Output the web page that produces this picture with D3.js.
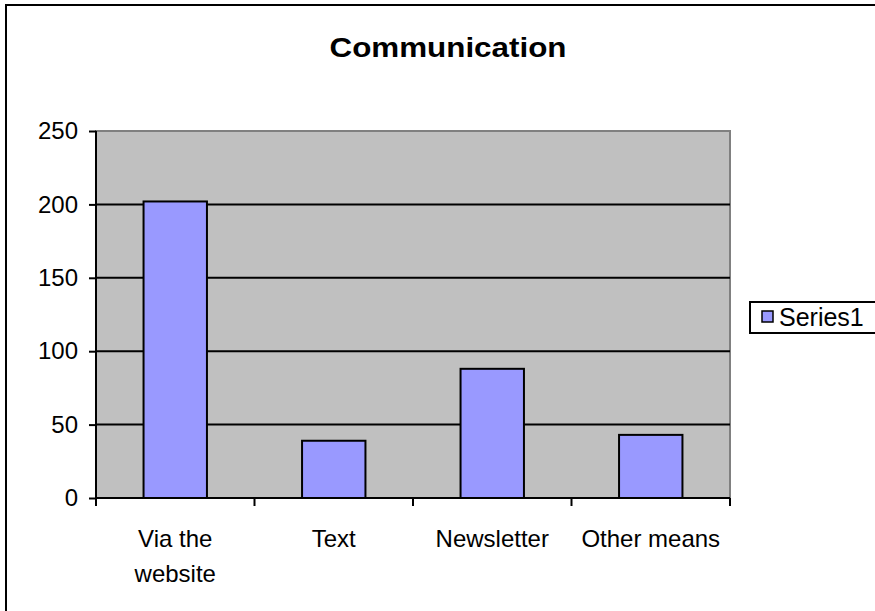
<!DOCTYPE html>
<html><head><meta charset="utf-8">
<script src="https://cdn.jsdelivr.net/npm/d3@7"></script>
<style>body{margin:0;background:#fff;}svg{display:block;font-family:"Liberation Sans",Arial,sans-serif;}</style>
</head><body>
<svg id="c" width="875" height="611"></svg>
<script>
const categories = ["Via the\nwebsite", "Text", "Newsletter", "Other means"];
const values = [202, 39, 88, 43];
const yTicks = [0, 50, 100, 150, 200, 250];
const seriesName = "Series1";
const title = "Communication";

const svg = d3.select("#c");
const pL = 96, pR = 730, pT = 131, pB = 498;
const x = d3.scaleBand().domain(categories).range([pL, pR]).paddingInner(0.6).paddingOuter(0.3);
const xb = d3.scaleBand().domain(categories).range([pL, pR]);
const y = d3.scaleLinear().domain([0, 250]).range([pB, pT]);
const FS = 24;

// outer border
svg.append("rect").attr("x", 6).attr("y", 5).attr("width", 900).attr("height", 700)
  .attr("fill", "#fff").attr("stroke", "#000").attr("stroke-width", 2);

// plot area
svg.append("rect").attr("x", pL).attr("y", pT).attr("width", pR - pL).attr("height", pB - pT)
  .attr("fill", "#C0C0C0").attr("stroke", "#808080").attr("stroke-width", 2);

// gridlines
svg.append("g").selectAll("line").data(yTicks.filter(d => d > 0 && d < 250)).join("line")
  .attr("x1", pL).attr("x2", pR).attr("y1", d => y(d)).attr("y2", d => y(d))
  .attr("stroke", "#000").attr("stroke-width", 2);

// bars
svg.append("g").selectAll("rect").data(values).join("rect")
  .attr("x", (d, i) => x(categories[i])).attr("width", x.bandwidth())
  .attr("y", d => y(d)).attr("height", d => y(0) - y(d))
  .attr("fill", "#9999FF").attr("stroke", "#000").attr("stroke-width", 2);

// y axis
const ya = svg.append("g").attr("transform", `translate(${pL},0)`)
  .call(d3.axisLeft(y).tickValues(yTicks).tickSize(7).tickPadding(11));
ya.select(".domain").attr("stroke", "#000").attr("stroke-width", 2).attr("d", `M0,${pT}V${pB}`);
ya.selectAll(".tick line").attr("stroke-width", 2);
ya.selectAll("text").attr("font-size", FS).attr("fill", "#000").attr("font-family", "Liberation Sans, Arial, sans-serif");

// x axis
const xa = svg.append("g").attr("transform", `translate(0,${pB})`);
xa.append("line").attr("x1", pL).attr("x2", pR).attr("stroke", "#000").attr("stroke-width", 2);
xa.selectAll("line.t").data(d3.range(categories.length + 1)).join("line").attr("class", "t")
  .attr("x1", i => pL + i * xb.step()).attr("x2", i => pL + i * xb.step())
  .attr("y1", 0).attr("y2", 8).attr("stroke", "#000").attr("stroke-width", 2);
xa.selectAll("text").data(categories).join("text")
  .attr("text-anchor", "middle").attr("font-size", FS).attr("fill", "#000")
  .attr("transform", d => `translate(${xb(d) + xb.bandwidth() / 2},49)`)
  .each(function (d) {
    const lines = d.split("\n");
    d3.select(this).selectAll("tspan").data(lines).join("tspan")
      .attr("x", 0).attr("dy", (l, i) => i === 0 ? 0 : 35).text(l => l);
  });

// title
svg.append("text").attr("x", 448).attr("y", 57).attr("text-anchor", "middle")
  .attr("font-size", 27).attr("font-weight", "bold")
  .attr("textLength", 237).attr("lengthAdjust", "spacingAndGlyphs").text(title);

// legend
const lg = svg.append("g");
lg.append("rect").attr("x", 750).attr("y", 302).attr("width", 140).attr("height", 31)
  .attr("fill", "#fff").attr("stroke", "#000").attr("stroke-width", 2);
lg.append("rect").attr("x", 762).attr("y", 311).attr("width", 11).attr("height", 11)
  .attr("fill", "#9999FF").attr("stroke", "#000").attr("stroke-width", 1.5);
lg.append("text").attr("x", 779).attr("y", 326).attr("font-size", 25).text(seriesName);
</script>
</body></html>
